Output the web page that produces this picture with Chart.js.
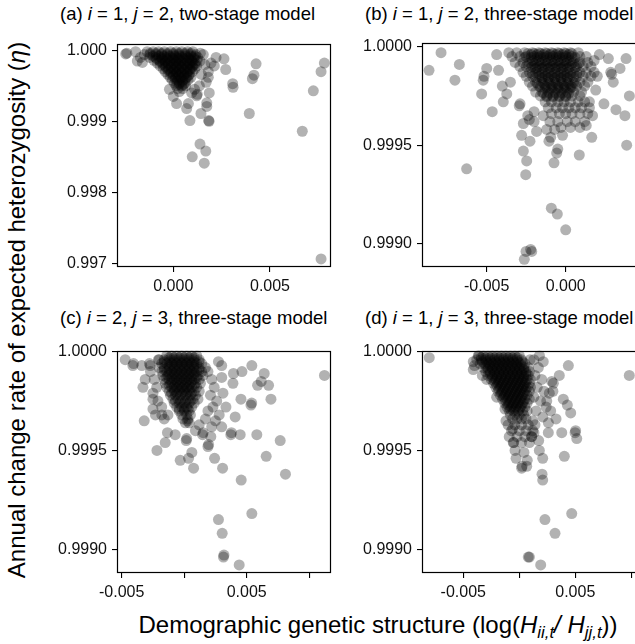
<!DOCTYPE html>
<html><head><meta charset="utf-8">
<script src="https://cdn.jsdelivr.net/npm/chart.js@4.4.0/dist/chart.umd.min.js"></script>
<style>
html,body{margin:0;padding:0;background:#fff;}
body{width:635px;height:644px;overflow:hidden;position:relative;font-family:"Liberation Sans",Arial,sans-serif;color:#000;}
canvas{position:absolute;}
.pt{position:absolute;font-size:18.5px;white-space:nowrap;line-height:1;}
.ax{position:absolute;font-size:24px;white-space:nowrap;line-height:1;transform:translate(-50%,-50%);}
.ay{position:absolute;font-size:24px;white-space:nowrap;line-height:1;transform:translate(-50%,-50%) rotate(-90deg);}
sub{font-size:70%;vertical-align:-0.3em;}
</style></head><body>
<canvas id="ca"></canvas><canvas id="cb"></canvas><canvas id="cc"></canvas><canvas id="cd"></canvas>
<div class="pt" style="left:60px;top:5px">(a) <i>i</i> = 1, <i>j</i> = 2, two-stage model</div>
<div class="pt" style="left:365px;top:5px">(b) <i>i</i> = 1, <i>j</i> = 2, three-stage model</div>
<div class="pt" style="left:60px;top:309px">(c) <i>i</i> = 2, <i>j</i> = 3, three-stage model</div>
<div class="pt" style="left:365px;top:309px">(d) <i>i</i> = 1, <i>j</i> = 3, three-stage model</div>
<div class="ay" style="left:17px;top:310px">Annual change rate of expected heterozygosity (<i>η</i>)</div>
<div class="ax" style="left:378px;top:627px">Demographic genetic structure (log(<i>H</i><sub><i>ii,t</i></sub><i>/ H</i><sub><i>jj,t</i></sub>))</div>
<script>
// ---------- tick values and labels ----------
const aXTicks = [0, 0.005];            const aXLabels = ['0.000', '0.005'];
const aYTicks = [0.997, 0.998, 0.999, 1.000]; const aYLabels = ['0.997', '0.998', '0.999', '1.000'];
const bXTicks = [-0.005, 0];           const bXLabels = ['-0.005', '0.000'];
const bYTicks = [0.999, 0.9995, 1.0];  const bYLabels = ['0.9990', '0.9995', '1.0000'];
const cdXTicks = [-0.005, 0, 0.005, 0.010]; const cdXLabels = ['-0.005', '', '0.005', ''];
const cdYTicks = [0.999, 0.9995, 1.0]; const cdYLabels = ['0.9990', '0.9995', '1.0000'];

// ---------- panel (a): dense cluster rows [y, x1, x2, ...] and scattered points [x, y] ----------
const aClusterRows = [
 [0.99998, -0.00135,-0.00104,-0.00076,-0.00046,-0.00014,0.00016,0.00044,0.00074,0.00101],
 [0.99996, -0.00120,-0.00090,-0.00060,-0.00030,0.00000,0.00030,0.00060,0.00090],
 [0.99994, -0.00150,-0.00121,-0.00089,-0.00061,-0.00031,0.00002,0.00029,0.00061,0.00088,0.00116],
 [0.99992, -0.00105,-0.00075,-0.00048,-0.00020,0.00006,0.00034,0.00062,0.00090,0.00112],
 [0.99990, -0.00122,-0.00091,-0.00062,-0.00034,-0.00008,0.00021,0.00047,0.00077,0.00104,0.00126],
 [0.99988, -0.00086,-0.00058,-0.00030,-0.00002,0.00026,0.00054,0.00082,0.00108],
 [0.99986, -0.00101,-0.00071,-0.00045,-0.00015,0.00013,0.00039,0.00069,0.00095,0.00123],
 [0.99984, -0.00068,-0.00041,-0.00014,0.00014,0.00042,0.00070,0.00098],
 [0.99982, -0.00083,-0.00054,-0.00027,0.00001,0.00027,0.00057,0.00083,0.00113],
 [0.99980, -0.00054,-0.00026,0.00002,0.00030,0.00058,0.00086,0.00110],
 [0.99978, -0.00068,-0.00041,-0.00011,0.00017,0.00043,0.00073,0.00099,0.00121],
 [0.99976, -0.00038,-0.00011,0.00017,0.00044,0.00072,0.00098],
 [0.99974, -0.00052,-0.00024,0.00004,0.00031,0.00057,0.00087,0.00111],
 [0.99972, -0.00026,0.00002,0.00030,0.00058,0.00086],
 [0.99970, -0.00041,-0.00012,0.00017,0.00043,0.00073,0.00099],
 [0.99968, -0.00014,0.00014,0.00042,0.00070],
 [0.99966, -0.00028,0.00001,0.00027,0.00057,0.00083],
 [0.99964, -0.00002,0.00026,0.00054,0.00078],
 [0.99962, -0.00016,0.00013,0.00039,0.00069,0.00091],
 [0.99960, 0.00010,0.00036,0.00062],
 [0.99958, -0.00005,0.00023,0.00049,0.00076],
 [0.99956, 0.00018,0.00046],
 [0.99954, 0.00006,0.00031,0.00061],
 [0.99952, 0.00030,0.00052],
 [0.99950, 0.00015,0.00043,0.00064],
 [0.99946, 0.00023,0.00049],
 [0.99942, 0.00031]
];
const aScatter = [
 [-0.00246,0.99995],[-0.00240,0.99996],[-0.00186,0.99985],[-0.00195,0.99998],[-0.00170,0.99990],[-0.00160,0.99983],
 [0.00140,0.99996],[0.00155,0.99994],[0.00138,0.99985],[0.00163,0.99980],[0.00221,0.99990],[0.00262,0.99988],
 [0.00271,0.99973],[0.00212,0.99978],[0.00195,0.99982],[0.00181,0.99970],[0.00181,0.99962],[0.00170,0.99955],
 [0.00145,0.99966],[0.00135,0.99950],[0.00307,0.99953],[0.00309,0.99948],[0.00428,0.99981],[0.00417,0.99965],
 [0.00409,0.99960],[0.00393,0.99911],[0.00781,0.99982],[0.00764,0.99970],[0.00724,0.99943],[0.00667,0.99886],
 [0.00764,0.99706],[0.00138,0.99868],[0.00168,0.99858],[0.00098,0.99850],[0.00160,0.99841],[0.00086,0.99901],
 [0.00185,0.99900],[0.00183,0.99901],[0.00143,0.99911],[0.00173,0.99921],[0.00173,0.99926],[0.00186,0.99940],
 [0.00121,0.99936],[0.00124,0.99938],[0.00078,0.99925],[0.00069,0.99918],[0.00017,0.99925],[0.00000,0.99935],
 [-0.00020,0.99945],[0.00095,0.99940],[0.00110,0.99945]
];

// ---------- panel (b) ----------
const bClusterRows = [
 [0.99997, -0.0036,-0.0031,-0.0026,-0.0021,-0.0017,-0.0013,-0.0009,-0.0005,-0.0001,0.0003,0.0008],
 [0.999965, -0.0024,-0.0020,-0.0016,-0.0012,-0.0008,-0.0004,0.0000,0.0004],
 [0.99996, -0.0022,-0.0018,-0.0014,-0.0010,-0.0006,-0.0002,0.0002],
 [0.99995, -0.0034,-0.0029,-0.0025,-0.0020,-0.0016,-0.0012,-0.0008,-0.0004,0.0000,0.0004,0.0009,0.0013],
 [0.999945, -0.0026,-0.0022,-0.0018,-0.0014,-0.0010,-0.0006,-0.0002,0.0002,0.0006],
 [0.99993, -0.0021,-0.0017,-0.0013,-0.0009,-0.0005,-0.0001,0.0003],
 [0.99992, -0.0032,-0.0027,-0.0023,-0.0019,-0.0015,-0.0011,-0.0007,-0.0003,0.0001,0.0005,0.0009,0.0014],
 [0.999915, -0.0024,-0.0020,-0.0016,-0.0012,-0.0008,-0.0004,0.0000,0.0004,0.0008],
 [0.99990, -0.0029,-0.0025,-0.0021,-0.0017,-0.0013,-0.0009,-0.0005,-0.0001,0.0003,0.0007,0.0011,0.0016],
 [0.999895, -0.0022,-0.0018,-0.0014,-0.0010,-0.0006,-0.0002,0.0002,0.0006],
 [0.99989, -0.0019,-0.0015,-0.0011,-0.0007,-0.0003,0.0001],
 [0.99987, -0.0027,-0.0023,-0.0019,-0.0015,-0.0011,-0.0007,-0.0003,0.0001,0.0005,0.0009,0.0013,0.0018],
 [0.999865, -0.0021,-0.0017,-0.0013,-0.0009,-0.0005,-0.0001,0.0003,0.0007],
 [0.99985, -0.0025,-0.0021,-0.0017,-0.0013,-0.0009,-0.0005,-0.0001,0.0003,0.0007,0.0011,0.0016],
 [0.999845, -0.0019,-0.0015,-0.0011,-0.0007,-0.0003,0.0001,0.0005],
 [0.99984, -0.0015,-0.0011,-0.0007,-0.0003,0.0001],
 [0.99982, -0.0023,-0.0019,-0.0015,-0.0011,-0.0007,-0.0003,0.0001,0.0005,0.0009,0.0014],
 [0.999815, -0.0018,-0.0014,-0.0010,-0.0006,-0.0002,0.0002,0.0006],
 [0.99980, -0.0021,-0.0017,-0.0013,-0.0009,-0.0005,-0.0001,0.0003,0.0007,0.0012],
 [0.999795, -0.0016,-0.0012,-0.0008,-0.0004,0.0000,0.0004],
 [0.99979, -0.0013,-0.0009,-0.0005,-0.0001,0.0003],
 [0.99977, -0.0019,-0.0015,-0.0011,-0.0007,-0.0003,0.0001,0.0005,0.0010],
 [0.999765, -0.0014,-0.0010,-0.0006,-0.0002,0.0002],
 [0.99975, -0.0016,-0.0012,-0.0008,-0.0004,0.0000,0.0004,0.0009],
 [0.999745, -0.0012,-0.0008,-0.0004,0.0000],
 [0.99972, -0.0013,-0.0009,-0.0005,-0.0001,0.0003,0.0008,0.0012],
 [0.99969, -0.0011,-0.0006,-0.0002,0.0002,0.0006,0.0010,0.0015],
 [0.99966, -0.0009,-0.0004,0.0000,0.0004,0.0009,0.0014],
 [0.99962, -0.0010,-0.0005,0.0001,0.0006,0.0012],
 [0.99959, -0.0003,0.0003,0.0009]
];
const bScatter = [
 [-0.00865,0.99988],[-0.00789,0.99997],[-0.00673,0.99991],[-0.00701,0.99983],[-0.00500,0.99989],[-0.00517,0.99985],
 [-0.00522,0.99983],[-0.00532,0.99976],[-0.00465,0.99967],[-0.00437,0.99996],[-0.00425,0.99988],[-0.00401,0.99980],
 [-0.00395,0.99972],[-0.00627,0.99938],[-0.00294,0.99970],[-0.00268,0.99961],[-0.00279,0.99955],[-0.00268,0.99947],
 [-0.00247,0.99942],[-0.00253,0.99935],[-0.00226,0.99952],[-0.00184,0.99957],[-0.00240,0.99965],[-0.00200,0.99962],
 [-0.00091,0.99918],[-0.00053,0.99915],[0.00000,0.99907],[-0.00251,0.99896],[-0.00215,0.99896],[-0.00222,0.99897],
 [-0.00262,0.99892],[-0.00057,0.99946],[-0.00074,0.99941],[-0.00050,0.99948],[-0.00106,0.99952],[0.00086,0.99945],
 [0.00165,0.99954],[0.00242,0.99971],[0.00318,0.99968],[0.00375,0.99965],[0.00386,0.99950],[0.00403,0.99975],
 [0.00382,0.99994],[0.00344,0.99989],[0.00291,0.99986],[0.00285,0.99987],[0.00270,0.99994],[0.00301,0.99982],
 [0.00213,0.99996],[0.00180,0.99993],[0.00200,0.99985],[0.00190,0.99978],[0.00170,0.99965],[0.00130,0.99960],
 [0.00150,0.99972],[-0.00373,0.99976],[-0.00350,0.99982],[-0.00289,0.99971],[-0.00230,0.99963],[-0.00200,0.99967],
 [-0.00142,0.99965],[-0.00120,0.99958],[-0.00095,0.99954],[-0.00070,0.99958],[-0.00020,0.99955]
];

// ---------- panel (c) ----------
const cClusterRows = [
 [0.99998, -0.0014,-0.0010,-0.0006,-0.0002,0.0002,0.0006,0.0010],
 [0.99997, -0.0012,-0.0008,-0.0004,0.0000,0.0004,0.0008],
 [0.99996, -0.0020,-0.0016,-0.0012,-0.0008,-0.0004,0.0000,0.0004,0.0008,0.0012],
 [0.99995, -0.0016,-0.0012,-0.0008,-0.0004,0.0000,0.0004,0.0008,0.0012],
 [0.99994, -0.0018,-0.0014,-0.0010,-0.0006,-0.0002,0.0002,0.0006,0.0010,0.0014],
 [0.99993, -0.0012,-0.0008,-0.0004,0.0000,0.0004,0.0008],
 [0.99992, -0.0020,-0.0016,-0.0012,-0.0008,-0.0004,0.0000,0.0004,0.0008,0.0012,0.0017],
 [0.99991, -0.0016,-0.0012,-0.0008,-0.0004,0.0000,0.0004,0.0008,0.0012],
 [0.99990, -0.0018,-0.0014,-0.0010,-0.0006,-0.0002,0.0002,0.0006,0.0010,0.0014],
 [0.99989, -0.0012,-0.0008,-0.0004,0.0000,0.0004,0.0008],
 [0.99988, -0.0017,-0.0013,-0.0009,-0.0005,-0.0001,0.0003,0.0007,0.0011,0.0015],
 [0.99987, -0.0014,-0.0010,-0.0006,-0.0002,0.0002,0.0006,0.0010],
 [0.99986, -0.0016,-0.0012,-0.0008,-0.0004,0.0000,0.0004,0.0008,0.0012],
 [0.99985, -0.0010,-0.0006,-0.0002,0.0002,0.0006],
 [0.99984, -0.0015,-0.0011,-0.0007,-0.0003,0.0001,0.0005,0.0009,0.0013],
 [0.99983, -0.0012,-0.0008,-0.0004,0.0000,0.0004,0.0008],
 [0.99982, -0.0014,-0.0010,-0.0006,-0.0002,0.0002,0.0006,0.0010],
 [0.99981, -0.0008,-0.0004,0.0000,0.0004],
 [0.99980, -0.0012,-0.0008,-0.0004,0.0000,0.0004,0.0008,0.0012],
 [0.99979, -0.0010,-0.0006,-0.0002,0.0002,0.0006],
 [0.99978, -0.0011,-0.0007,-0.0003,0.0001,0.0005,0.0009],
 [0.99976, -0.0009,-0.0005,-0.0001,0.0003,0.0007,0.0011],
 [0.99975, -0.0007,-0.0003,0.0001,0.0005],
 [0.99974, -0.0008,-0.0004,0.0000,0.0004,0.0008],
 [0.99972, -0.0006,-0.0002,0.0002,0.0006],
 [0.99971, -0.0004,0.0000,0.0003],
 [0.99970, -0.0004,0.0000,0.0004],
 [0.99968, -0.0002,0.0002,0.0005],
 [0.99966, -0.0001,0.0003],
 [0.99964, 0.0001,0.0004]
];
const cScatter = [
 [-0.0027,0.99990],[-0.0024,0.99986],[-0.0022,0.99982],[-0.0025,0.99976],[-0.0021,0.99975],[-0.0023,0.99968],
 [-0.0018,0.99972],[-0.0016,0.99966],[-0.0013,0.99968],[0.0019,0.99990],[0.0022,0.99986],[0.0024,0.99982],
 [0.0021,0.99978],[0.0026,0.99975],[0.0023,0.99972],[0.0019,0.99970],[0.0028,0.99968],[0.0025,0.99965],
 [0.0022,0.99962],[0.0030,0.99962],[0.0030,0.99987],[0.0031,0.99979],[0.0017,0.99966],[0.0012,0.99963],
 [0.0009,0.99960],
 [-0.00472,0.99996],[-0.00411,0.99993],[-0.00405,0.99994],[-0.00339,0.99993],[-0.00278,0.99994],[-0.00272,0.99993],
 [-0.00206,0.99996],[-0.00312,0.99986],[-0.00330,0.99982],[-0.00250,0.99979],[-0.00250,0.99971],[-0.00320,0.99965],
 [-0.00179,0.99968],[-0.00134,0.99959],[-0.00152,0.99954],[-0.00218,0.99950],[-0.00072,0.99958],[-0.00032,0.99945],
 [0.00035,0.99946],[0.00061,0.99949],[0.00075,0.99941],[0.00016,0.99955],[0.00020,0.99956],[0.00026,0.99965],
 [0.00190,0.99952],[0.00195,0.99953],[0.00243,0.99946],[0.00307,0.99941],[0.00213,0.99957],[0.00147,0.99958],
 [0.00152,0.99959],[0.00373,0.99958],[0.00378,0.99959],[0.00448,0.99958],[0.00581,0.99958],[0.00656,0.99947],
 [0.00768,0.99955],[0.00810,0.99938],[0.00456,0.99935],[0.00541,0.99918],[0.00274,0.99915],[0.00304,0.99908],
 [0.00314,0.99896],[0.00318,0.99897],[0.00440,0.99892],[0.01122,0.99988],[0.00541,0.99993],[0.00640,0.99989],
 [0.00616,0.99985],[0.00587,0.99983],[0.00675,0.99983],[0.00694,0.99976],[0.00534,0.99973],[0.00540,0.99974],
 [0.00454,0.99976],[0.00462,0.99990],[0.00394,0.99989],[0.00390,0.99984],[0.00408,0.99967],[0.00334,0.99972],
 [0.00274,0.99995],[0.00300,0.99993]
];

// ---------- panel (d) ----------
const dClusterRows = [
 [0.99998, -0.0036,-0.0032,-0.0028,-0.0024,-0.0020,-0.0016,-0.0012,-0.0008,-0.0004,0.0000],
 [0.99997, -0.0034,-0.0030,-0.0026,-0.0022,-0.0018,-0.0014,-0.0010,-0.0006,-0.0002],
 [0.99996, -0.0038,-0.0034,-0.0030,-0.0026,-0.0022,-0.0018,-0.0014,-0.0010,-0.0006,-0.0002,0.0002],
 [0.99995, -0.0033,-0.0029,-0.0025,-0.0021,-0.0017,-0.0013,-0.0009,-0.0005,-0.0001,0.0003],
 [0.99994, -0.0035,-0.0031,-0.0027,-0.0023,-0.0019,-0.0015,-0.0011,-0.0007,-0.0003,0.0001,0.0005],
 [0.99993, -0.0030,-0.0026,-0.0022,-0.0018,-0.0014,-0.0010,-0.0006,-0.0002,0.0002],
 [0.99992, -0.0032,-0.0028,-0.0024,-0.0020,-0.0016,-0.0012,-0.0008,-0.0004,0.0000,0.0004,0.0008],
 [0.99991, -0.0028,-0.0024,-0.0020,-0.0016,-0.0012,-0.0008,-0.0004,0.0000,0.0004],
 [0.99990, -0.0030,-0.0026,-0.0022,-0.0018,-0.0014,-0.0010,-0.0006,-0.0002,0.0002,0.0006,0.0009],
 [0.99989, -0.0026,-0.0022,-0.0018,-0.0014,-0.0010,-0.0006,-0.0002,0.0002,0.0006],
 [0.99988, -0.0028,-0.0024,-0.0020,-0.0016,-0.0012,-0.0008,-0.0004,0.0000,0.0004,0.0008],
 [0.99987, -0.0024,-0.0020,-0.0016,-0.0012,-0.0008,-0.0004,0.0000,0.0004],
 [0.99986, -0.0025,-0.0021,-0.0017,-0.0013,-0.0009,-0.0005,-0.0001,0.0003,0.0007,0.0010],
 [0.99985, -0.0022,-0.0018,-0.0014,-0.0010,-0.0006,-0.0002,0.0002,0.0006],
 [0.99984, -0.0023,-0.0019,-0.0015,-0.0011,-0.0007,-0.0003,0.0001,0.0005,0.0009],
 [0.99983, -0.0020,-0.0016,-0.0012,-0.0008,-0.0004,0.0000,0.0004],
 [0.99982, -0.0021,-0.0017,-0.0013,-0.0009,-0.0005,-0.0001,0.0003,0.0007,0.0010],
 [0.99981, -0.0018,-0.0014,-0.0010,-0.0006,-0.0002,0.0002,0.0006],
 [0.99980, -0.0019,-0.0015,-0.0011,-0.0007,-0.0003,0.0001,0.0005,0.0009],
 [0.99979, -0.0016,-0.0012,-0.0008,-0.0004,0.0000,0.0004],
 [0.99978, -0.0017,-0.0013,-0.0009,-0.0005,-0.0001,0.0003,0.0007],
 [0.99977, -0.0014,-0.0010,-0.0006,-0.0002,0.0002],
 [0.99976, -0.0015,-0.0011,-0.0007,-0.0003,0.0001,0.0005,0.0009],
 [0.99975, -0.0012,-0.0008,-0.0004,0.0000,0.0004],
 [0.99974, -0.0013,-0.0009,-0.0005,-0.0001,0.0003,0.0007],
 [0.99973, -0.0010,-0.0006,-0.0002,0.0002],
 [0.99972, -0.0011,-0.0007,-0.0003,0.0001,0.0005],
 [0.99971, -0.0008,-0.0004,0.0000],
 [0.99970, -0.0009,-0.0005,-0.0001,0.0003,0.0007],
 [0.99968, -0.0008,-0.0004,0.0000,0.0004],
 [0.99966, -0.0006,-0.0002,0.0002,0.0006],
 [0.99963, -0.0010,-0.0004,0.0002,0.0008,0.0014],
 [0.99960, -0.0007,0.0000,0.0006,0.0012],
 [0.99957, -0.0009,-0.0002,0.0005,0.0011],
 [0.99954, -0.0005,0.0002,0.0009]
];
const dScatter = [
 [0.0013,0.99996],[0.0017,0.99992],[0.0014,0.99988],[0.0020,0.99986],[0.0016,0.99982],[0.0022,0.99980],
 [0.0013,0.99977],[0.0019,0.99975],[0.0024,0.99972],[0.0015,0.99970],[0.0021,0.99967],[0.0012,0.99965],
 [0.0026,0.99964],[0.00096,0.99996],[0.00214,0.99995],[0.00180,0.99998],
 [-0.00411,0.99995],[-0.00411,0.99991],[-0.00366,0.99998],[-0.00291,0.99986],[-0.00202,0.99977],[-0.00128,0.99971],
 [-0.00119,0.99965],[-0.0040,0.99993],[-0.0033,0.99988],
 [-0.00804,0.99997],[0.00982,0.99988],[-0.00059,0.99961],[-0.00054,0.99954],[-0.00038,0.99950],[-0.00029,0.99946],
 [0.00021,0.99941],[0.00025,0.99942],[0.00071,0.99945],[0.00042,0.99949],[0.00066,0.99942],[0.00179,0.99950],
 [0.00209,0.99946],[0.00203,0.99938],[0.00209,0.99935],[0.00173,0.99955],[0.00131,0.99959],[0.00110,0.99957],
 [0.00259,0.99959],[0.00328,0.99966],[0.00245,0.99975],[0.00268,0.99979],[0.00393,0.99976],[0.00429,0.99973],
 [0.00459,0.99969],[0.00379,0.99959],[0.00498,0.99959],[0.00503,0.99960],[0.00513,0.99956],[0.00402,0.99947],
 [0.00438,0.99993],[0.00357,0.99988],[0.00304,0.99984],[0.00290,0.99985],[0.00468,0.99918],[0.00229,0.99915],
 [0.00319,0.99908],[0.00080,0.99896],[0.00090,0.99896],[0.00191,0.99892],[0.0030,0.99980],[0.0028,0.99970]
];

// ---------- helpers ----------
function fromRows(rows){const out=[];rows.forEach(r=>{for(let i=1;i<r.length;i++)out.push({x:r[i],y:r[0]});});return out;}
function fromPairs(p){return p.map(q=>({x:q[0],y:q[1]}));}

const FONT = '"Liberation Sans", Arial, sans-serif';
const TICK_SIZE = 16;
const YW = 64, XH = 30, PADT = 6, PADR = 6;

const boxPlugin = {
  id:'panelBox',
  afterDatasetsDraw(chart){
    const a = chart.chartArea, ctx = chart.ctx;
    ctx.save(); ctx.strokeStyle = '#000'; ctx.lineWidth = 1.2;
    ctx.strokeRect(Math.round(a.left)+0.5, Math.round(a.top)+0.5, Math.round(a.right-a.left)-1, Math.round(a.bottom-a.top)-1);
    ctx.restore();
  }
};

function labelFor(vals, labels){
  return v => { const i = vals.findIndex(t => Math.abs(t - v) < 1e-9); return i < 0 ? '' : labels[i]; };
}

function axis(min, max, vals, labels, isX){
  const s = {
    type:'linear', min:min, max:max,
    afterBuildTicks: sc => { sc.ticks = vals.map(v => ({value:v})); },
    grid:{drawOnChartArea:false, drawTicks:true, tickLength:5, color:'#000', lineWidth:1.1},
    border:{display:false},
    ticks:{font:{family:FONT, size:TICK_SIZE}, color:'#111', padding:5, autoSkip:false, maxRotation:0, minRotation:0, callback:labelFor(vals, labels)}
  };
  if (isX) s.afterFit = sc => { sc.height = XH; }; else s.afterFit = sc => { sc.width = YW; };
  return s;
}

const panels = [
  {id:'ca', box:{l:117,t:35,r:331,b:267}, x:[-0.002911,0.008154], y:[0.996947,1.000095],
   xt:aXTicks, xl:aXLabels, yt:aYTicks, yl:aYLabels, pts:fromRows(aClusterRows).concat(fromPairs(aScatter))},
  {id:'cb', box:{l:422,t:34,r:640,b:267}, x:[-0.009095,0.004703], y:[0.998881,1.000021],
   xt:bXTicks, xl:bXLabels, yt:bYTicks, yl:bYLabels, pts:fromRows(bClusterRows).concat(fromPairs(bScatter))},
  {id:'cc', box:{l:117,t:342,r:331,b:573}, x:[-0.005376,0.011744], y:[0.998879,1.000006],
   xt:cdXTicks, xl:cdXLabels, yt:cdYTicks, yl:cdYLabels, pts:fromRows(cClusterRows).concat(fromPairs(cScatter))},
  {id:'cd', box:{l:422,t:342,r:640,b:573}, x:[-0.008688,0.010777], y:[0.998879,1.000006],
   xt:cdXTicks, xl:cdXLabels, yt:cdYTicks, yl:cdYLabels, pts:fromRows(dClusterRows).concat(fromPairs(dScatter))}
];

panels.forEach(p => {
  const cv = document.getElementById(p.id);
  const w = (p.box.r - p.box.l) + YW + PADR, h = (p.box.b - p.box.t) + PADT + XH;
  cv.width = w; cv.height = h;
  cv.style.left = (p.box.l - YW) + 'px'; cv.style.top = (p.box.t - PADT) + 'px';
  cv.style.width = w + 'px'; cv.style.height = h + 'px';
  new Chart(cv, {
    type:'scatter',
    data:{datasets:[{data:p.pts, pointRadius:5.5, pointHoverRadius:5.5, pointBackgroundColor:'rgba(0,0,0,0.3)', backgroundColor:'rgba(0,0,0,0.3)', pointBorderWidth:0, borderWidth:0}]},
    options:{
      responsive:false, animation:false, events:[], devicePixelRatio:1,
      layout:{padding:{top:PADT, right:PADR, left:0, bottom:0}, autoPadding:false},
      plugins:{legend:{display:false}, tooltip:{enabled:false}, title:{display:false}},
      scales:{x:axis(p.x[0], p.x[1], p.xt, p.xl, true), y:axis(p.y[0], p.y[1], p.yt, p.yl, false)}
    },
    plugins:[boxPlugin]
  });
});
</script>
</body></html>
